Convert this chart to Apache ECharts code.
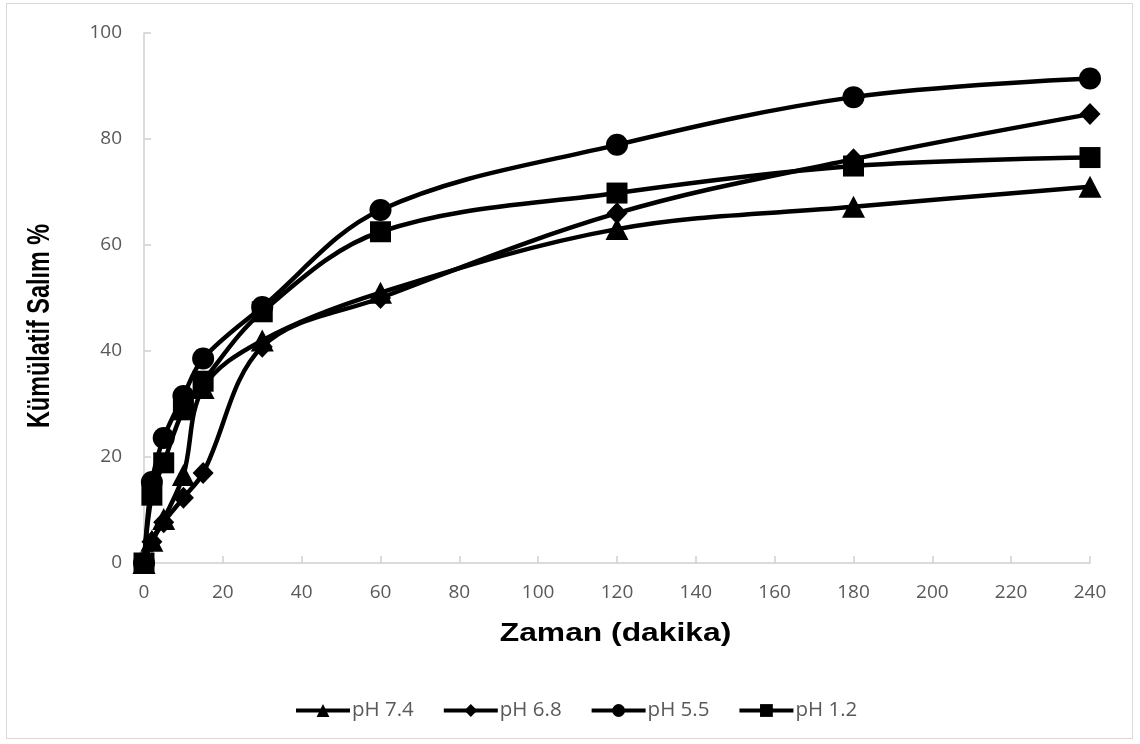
<!DOCTYPE html>
<html><head><meta charset="utf-8">
<script src="https://cdn.jsdelivr.net/npm/echarts@6/dist/echarts.min.js"></script>
<style>html,body{margin:0;padding:0;background:#fff}#c{width:1140px;height:744px}
#b{position:absolute;left:6px;top:3px;width:1127px;height:736px;border:1px solid #d9d9d9;box-sizing:border-box;pointer-events:none}</style>
</head><body><div id="c"></div><div id="b"></div>
<script>
const times = [0, 2, 5, 10, 15, 30, 60, 120, 180, 240];
const seriesNames = ['pH 7.4', 'pH 6.8', 'pH 5.5', 'pH 1.2'];
const ph74 = [0, 4.2, 8.3, 16.6, 33, 42, 51, 63, 67.2, 71];
const ph68 = [0, 4.0, 7.7, 12.3, 17, 40.8, 50, 66, 76.2, 84.7];
const ph55 = [0, 15.3, 23.6, 31.5, 38.6, 48.3, 66.6, 78.9, 87.9, 91.4];
const ph12 = [0, 12.8, 18.9, 28.9, 34.3, 47.4, 62.5, 69.8, 74.9, 76.5];
const xTitle = 'Zaman (dakika)';
const yTitle = 'Kümülatif Salım %';

const symbols = ['triangle', 'diamond', 'circle', 'rect'];
const sizes = [[23, 22], [21, 22], 22, 21];
const data = [ph74, ph68, ph55, ph12];

const chart = echarts.init(document.getElementById('c'));
chart.setOption({
  animation: false,
  backgroundColor: '#fff',
  grid: {left: 144, right: 50, top: 33, bottom: 181},
  xAxis: {
    type: 'value', min: 0, max: 240, interval: 20,
    axisLine: {show: true, onZero: false, lineStyle: {color: '#d0d0d0', width: 1.5}},
    axisTick: {show: true, inside: true, length: 7, lineStyle: {color: '#d0d0d0', width: 1.5}},
    axisLabel: {fontFamily: 'Open Sans', fontSize: 19, color: '#595959', margin: 20},
    splitLine: {show: false}
  },
  yAxis: {
    type: 'value', min: 0, max: 100, interval: 20,
    axisLine: {show: true, lineStyle: {color: '#d0d0d0', width: 1.5}},
    axisTick: {show: true, inside: true, length: 7, lineStyle: {color: '#d0d0d0', width: 1.5}},
    axisLabel: {fontFamily: 'Open Sans', fontSize: 19, color: '#595959', margin: 22},
    splitLine: {show: false}
  },
  graphic: [
    {type: 'text', x: 615.5, y: 634, scaleX: 1.2, scaleY: 1,
     style: {text: xTitle, font: 'bold 26.5px "Liberation Sans", Arial, sans-serif', fill: '#000',
             align: 'center', verticalAlign: 'middle'}},
    {type: 'group', x: 40, y: 326, rotation: Math.PI / 2,
     children: [
       {type: 'text', x: 0, y: 0, scaleX: 0.78, scaleY: 1.05,
        style: {text: yTitle, font: 'bold 30px "Liberation Sans", Arial, sans-serif', fill: '#000',
                align: 'center', verticalAlign: 'middle'}}
     ]}
  ],
  legend: {
    top: 700, left: 294, padding: 0, itemGap: 28, itemWidth: 54, itemHeight: 16,
    lineStyle: {width: 4},
    textStyle: {fontFamily: 'Open Sans', fontSize: 20.5, color: '#595959', padding: [0, 0, 0, -3]},
    data: seriesNames
  },
  series: seriesNames.map((n, i) => ({
    name: n, type: 'line', smooth: 0.35,
    data: times.map((t, j) => [t, data[i][j]]),
    symbol: symbols[i], symbolSize: sizes[i],
    lineStyle: {color: '#000', width: 4.5},
    itemStyle: {color: '#000'}
  }))
});
</script></body></html>
